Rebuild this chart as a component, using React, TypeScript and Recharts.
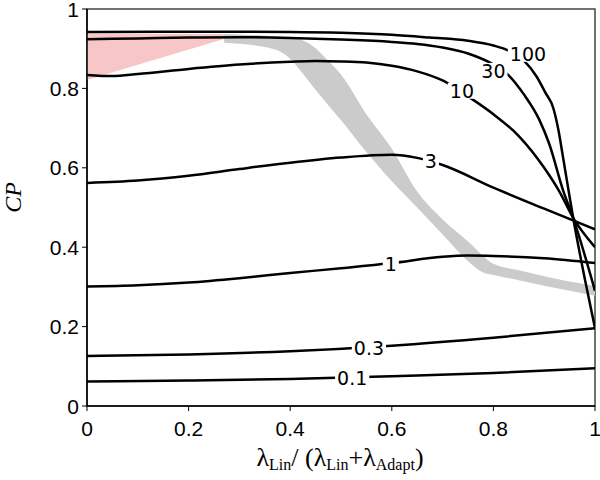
import React from 'react';
import { ComposedChart, Line, Area, Scatter, XAxis, YAxis, ReferenceArea } from 'recharts';

const xTicks = [0, 0.2, 0.4, 0.6, 0.8, 1];
const yTicks = [0, 0.2, 0.4, 0.6, 0.8, 1];

const c01: number[][] = [[0, 0.062], [0.2, 0.064], [0.4, 0.068], [0.6, 0.075], [0.8, 0.083], [1, 0.095]];
const c03: number[][] = [[0, 0.126], [0.2, 0.13], [0.4, 0.138], [0.6, 0.152], [0.8, 0.172], [1, 0.196]];
const c1: number[][] = [[0, 0.301], [0.1, 0.304], [0.2, 0.311], [0.3, 0.322], [0.4, 0.335], [0.5, 0.347], [0.6, 0.36], [0.7, 0.376], [0.75, 0.379], [0.8, 0.378], [0.9, 0.372], [1, 0.36]];
const c3: number[][] = [[0, 0.562], [0.1, 0.568], [0.2, 0.58], [0.3, 0.597], [0.4, 0.613], [0.5, 0.626], [0.6, 0.633], [0.65, 0.625], [0.7, 0.607], [0.8, 0.55], [0.9, 0.497], [1, 0.445]];
const c10: number[][] = [[0, 0.834], [0.05, 0.831], [0.1, 0.836], [0.2, 0.849], [0.3, 0.86], [0.4, 0.867], [0.45, 0.869], [0.5, 0.868], [0.55, 0.865], [0.6, 0.857], [0.65, 0.843], [0.7, 0.82], [0.75, 0.78], [0.8, 0.735], [0.85, 0.68], [0.9, 0.6], [0.93, 0.54], [0.957, 0.474], [1, 0.4]];
const c30: number[][] = [[0, 0.924], [0.1, 0.926], [0.2, 0.928], [0.3, 0.929], [0.4, 0.927], [0.5, 0.923], [0.6, 0.917], [0.65, 0.912], [0.7, 0.903], [0.75, 0.888], [0.8, 0.86], [0.83, 0.833], [0.86, 0.785], [0.89, 0.722], [0.91, 0.66], [0.937, 0.544], [0.957, 0.474], [1, 0.29]];
const c100: number[][] = [[0, 0.942], [0.2, 0.943], [0.4, 0.942], [0.5, 0.94], [0.6, 0.935], [0.675, 0.928], [0.75, 0.92], [0.8, 0.908], [0.83, 0.895], [0.86, 0.87], [0.885, 0.83], [0.902, 0.79], [0.918, 0.75], [0.928, 0.695], [0.937, 0.627], [0.947, 0.55], [0.957, 0.474], [0.98, 0.32], [1, 0.196]];

const curveLabelX = [0.868, 0.8, 0.738, 0.677, 0.598, 0.555, 0.522];
const curveLabelY = [0.887, 0.844, 0.794, 0.617, 0.358, 0.146, 0.071];
const curveLabelText = ['100', '30', '10', '3', '1', '0.3', '0.1'];

// red region: [x, low, high]
const redRegion: number[][] = [[0, 0.821, 0.938], [0.276, 0.927, 0.937]];
// gray band: x grid with lower and upper edges
const bandX = [0.27, 0.36, 0.4, 0.42, 0.445, 0.47, 0.5, 0.55, 0.6, 0.65, 0.7, 0.754, 0.78, 0.8, 0.85, 0.9, 1];
const bandLow = [0.915, 0.902, 0.875, 0.845, 0.804, 0.765, 0.72, 0.64, 0.566, 0.5, 0.432, 0.36, 0.336, 0.33, 0.317, 0.303, 0.278];
const bandHigh = [0.937, 0.932, 0.928, 0.923, 0.906, 0.876, 0.835, 0.735, 0.648, 0.54, 0.47, 0.41, 0.378, 0.358, 0.342, 0.327, 0.302];

const toXY = (a: number[][]) => a.map(([x, y]) => ({ x, y }));
const curves = [c01, c03, c1, c3, c10, c30, c100].map(toXY);
const redData = redRegion.map(([x, lo, hi]) => ({ x, r: [lo, hi] }));
const bandData = bandX.map((x, i) => ({ x, r: [bandLow[i], bandHigh[i]] }));
const labelData = curveLabelX.map((x, i) => ({ x, y: curveLabelY[i], text: curveLabelText[i] }));

const LABEL_FS = 19;
const renderCurveLabel = (props: any) => {
  const { cx, cy, payload } = props;
  const t: string = payload.text;
  let w = 0;
  for (const ch of t) w += ch === '.' ? 0.318 * LABEL_FS : 0.636 * LABEL_FS;
  return (
    <g>
      <rect x={cx - w / 2 - 2} y={cy - 8} width={w + 4} height={16} fill="#fff" />
      <text x={cx} y={cy + 7} textAnchor="middle" style={{ fontFamily: 'DejaVu Sans, Verdana, sans-serif', fontSize: LABEL_FS }} fill="#000">
        {t}
      </text>
    </g>
  );
};

const TICK_FONT = 'Arial, Liberation Sans, Arimo, Helvetica, sans-serif';
const TICK_FS = 21;

const renderXTick = (props: any) => {
  const { x, y, payload } = props;
  return (
    <text x={x} y={y} dy="0.71em" textAnchor="middle" style={{ fontFamily: TICK_FONT, fontSize: TICK_FS }} fill="#000">
      {String(payload.value)}
    </text>
  );
};

const renderYTick = (props: any) => {
  const { x, y, payload } = props;
  return (
    <text x={x} y={y} dy="0.36em" textAnchor="end" style={{ fontFamily: TICK_FONT, fontSize: TICK_FS }} fill="#000">
      {String(payload.value)}
    </text>
  );
};

const SERIF = 'Liberation Serif, Times New Roman, Times, serif';

const XLabel = (props: any) => {
  const vb = props.viewBox || { x: 87, y: 406, width: 508 };
  const cx = vb.x + vb.width / 2 - 1;
  const y = vb.y + 60;
  return (
    <text x={cx} y={y} textAnchor="middle" style={{ fontFamily: SERIF, fontSize: 26 }} fill="#000">
      <tspan>λ</tspan>
      <tspan style={{ fontSize: 16 }} dy={4}>Lin</tspan>
      <tspan dy={-4}>/ (λ</tspan>
      <tspan style={{ fontSize: 16 }} dy={4}>Lin</tspan>
      <tspan dy={-4}>+λ</tspan>
      <tspan style={{ fontSize: 16 }} dy={4}>Adapt</tspan>
      <tspan dy={-4}>)</tspan>
    </text>
  );
};

const YLabel = (props: any) => {
  const vb = props.viewBox || { x: 27, y: 9, height: 397 };
  const x = vb.x - 6;
  const y = vb.y + vb.height / 2 - 10;
  return (
    <text x={x} y={y} transform={`rotate(-90 ${x} ${y})`} textAnchor="middle" style={{ fontFamily: SERIF, fontStyle: 'italic', fontSize: 24 }} fill="#000">
      CP
    </text>
  );
};

export default function App() {
  return (
    <div style={{ position: 'absolute', left: 0, top: 0, width: 600, height: 480, background: '#fff' }}>
      <ComposedChart width={600} height={480} margin={{ top: 9, right: 5, bottom: 24, left: 27 }}>
        <XAxis
          type="number"
          dataKey="x"
          domain={[0, 1]}
          ticks={xTicks}
          tickSize={5}
          tickMargin={10}
          height={50}
          allowDataOverflow
          axisLine={{ stroke: '#000', strokeWidth: 1.5 }}
          tickLine={{ stroke: '#000' }}
          tick={renderXTick}
          label={{ content: XLabel }}
        />
        <YAxis
          type="number"
          dataKey="y"
          domain={[0, 1]}
          ticks={yTicks}
          tickSize={5}
          tickMargin={3}
          width={60}
          allowDataOverflow
          axisLine={{ stroke: '#000', strokeWidth: 1.5 }}
          tickLine={{ stroke: '#000' }}
          tick={renderYTick}
          label={{ content: YLabel }}
        />
        <ReferenceArea x1={0} x2={1} y1={0} y2={1} fill="none" stroke="#444" strokeWidth={1.5} ifOverflow="visible" />
        <Area data={redData} dataKey="r" type="linear" fill="#f7c6c6" fillOpacity={1} stroke="none" isAnimationActive={false} />
        <Area data={bandData} dataKey="r" type="monotone" fill="#cbcbcb" fillOpacity={1} stroke="none" isAnimationActive={false} />
        {curves.map((d, i) => (
          <Line key={i} data={d} dataKey="y" type="monotone" stroke="#000" strokeWidth={2.5} dot={false} activeDot={false} isAnimationActive={false} />
        ))}
        <Scatter data={labelData} dataKey="y" shape={renderCurveLabel} isAnimationActive={false} />
      </ComposedChart>
    </div>
  );
}
